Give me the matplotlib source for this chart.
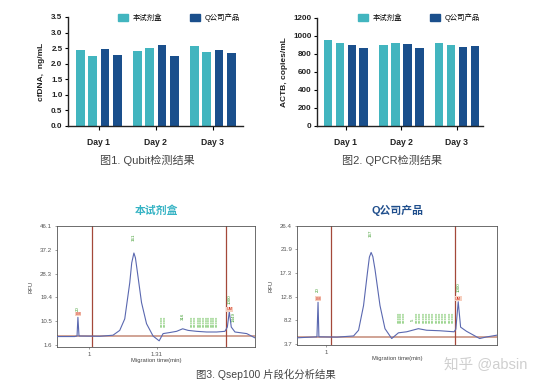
import matplotlib
matplotlib.use("Agg")
import matplotlib.pyplot as plt
import numpy as np
from matplotlib.patches import Patch

plt.rcParams['font.family'] = ['Liberation Sans', 'Noto Sans CJK SC', 'DejaVu Sans']

TEAL = '#42b5bf'
NAVY = '#1a4f8c'

# ---------------- data ----------------
days = ['Day 1', 'Day 2', 'Day 3']
series_names = ['本试剂盒', 'Q公司产品']
# four replicate bars per day: two from the kit, two from company Q
qubit_kit_a = [2.43, 2.41, 2.56]
qubit_kit_b = [2.25, 2.52, 2.37]
qubit_q_a = [2.46, 2.59, 2.43]
qubit_q_b = [2.27, 2.25, 2.33]

qpcr_kit_a = [950, 905, 925]
qpcr_kit_b = [925, 925, 905]
qpcr_q_a = [895, 910, 880]
qpcr_q_b = [870, 870, 890]

# electropherogram traces (migration time in min, RFU)
kit_time = [0.853, 0.934, 0.945, 0.949, 0.954, 1.049, 1.110, 1.141, 1.164, 1.187,
            1.196, 1.206, 1.213, 1.221, 1.241, 1.264, 1.294, 1.322, 1.340, 1.371,
            1.402, 1.430, 1.455, 1.494, 1.540, 1.586, 1.624, 1.635, 1.644, 1.653,
            1.670, 1.724, 1.762]
kit_rfu = [4.8, 4.8, 5.0, 12.0, 5.0, 4.9, 5.3, 7.1, 11.4, 24.9,
           32.3, 36.0, 34.2, 29.5, 17.5, 9.6, 5.0, 3.2, 5.9, 6.3,
           6.75, 7.7, 7.1, 6.75, 6.5, 6.5, 6.75, 8.35, 14.1, 8.35,
           6.5, 5.9, 4.3]
kit_yticks = [1.6, 10.5, 19.4, 28.3, 37.2, 46.1]
kit_xticks = [1.0, 1.31]
kit_markers = [1.014, 1.629]
kit_baseline = 5.0

q_time = [0.865, 0.957, 0.962, 0.966, 1.049, 1.126, 1.149, 1.172, 1.190, 1.199,
          1.207, 1.215, 1.225, 1.248, 1.271, 1.302, 1.333, 1.371, 1.425, 1.463,
          1.524, 1.590, 1.598, 1.609, 1.620, 1.647, 1.708, 1.739, 1.788]
q_rfu = [4.84, 5.03, 11.7, 5.03, 4.97, 5.2, 6.3, 11.05, 17.4, 20.4,
         21.3, 20.5, 18.0, 11.05, 6.6, 4.7, 5.8, 6.0, 6.6, 6.3,
         6.2, 6.0, 6.5, 11.8, 6.9, 6.1, 4.7, 5.0, 5.35]
q_yticks = [3.7, 8.2, 12.8, 17.3, 21.9, 26.4]
q_xticks = [1.0]
q_markers = [1.023, 1.594]
q_baseline = 5.0

# peak labels (time, rfu, text)
kit_peak_labels = [(0.949, 14.5, '20'), (1.206, 40.5, '161'), (1.430, 10.8, '316'),
                   (1.644, 16.8, '1000'), (1.662, 10.3, '1449')]
kit_cluster = [1.333, 1.345, 1.47, 1.483, 1.50, 1.512, 1.524, 1.536, 1.548, 1.56, 1.572, 1.584]
q_peak_labels = [(0.962, 13.6, '20'), (1.207, 24.2, '167'), (1.609, 13.6, '1000'),
                 (1.398, 8.0, '5')]
q_cluster = [1.33, 1.342, 1.354, 1.415, 1.43, 1.445, 1.46, 1.475, 1.49, 1.505, 1.52, 1.535,
             1.55, 1.565, 1.58]

# ---------------- figure ----------------
fig = plt.figure(figsize=(5.47, 3.88), dpi=100)


def bar_chart(rect, vals, ylim, yticks, yfmt, ylabel, xlim):
    ax = fig.add_axes(rect)
    x = np.arange(len(days))
    w = 0.155
    step = 0.215
    colors = [TEAL, TEAL, NAVY, NAVY]
    for i, (v, c) in enumerate(zip(vals, colors)):
        ax.bar(x + (i - 1.5) * step, v, width=w, color=c, zorder=2)
    ax.set_xlim(*xlim)
    ax.set_ylim(*ylim)
    ax.set_yticks(yticks)
    ax.set_yticklabels([yfmt % v for v in yticks], fontweight='bold')
    ax.set_xticks(x)
    ax.set_xticklabels(days, fontsize=6.2, fontweight='bold', color='#222')
    for s in ['top', 'right']:
        ax.spines[s].set_visible(False)
    for s in ['left', 'bottom']:
        ax.spines[s].set_linewidth(1.0)
        ax.spines[s].set_color('#222')
    ax.tick_params(axis='y', labelsize=5.8, length=2.5, width=0.8, pad=1.5, labelcolor='#222')
    ax.tick_params(axis='x', length=3, width=0.8, pad=6)
    ax.set_ylabel(ylabel, fontsize=6, fontweight='bold', color='#222', labelpad=4)
    return ax


ax1 = bar_chart([0.1243, 0.6753, 0.3199, 0.2809],
                [qubit_kit_a, qubit_kit_b, qubit_q_a, qubit_q_b],
                (0, 3.5), np.arange(0, 3.51, 0.5), '%.1f', 'cfDNA,  ng/mL', (-0.544, 2.53))
ax2 = bar_chart([0.5795, 0.6753, 0.3035, 0.2784],
                [qpcr_kit_a, qpcr_kit_b, qpcr_q_a, qpcr_q_b],
                (0, 1200), np.arange(0, 1201, 200), '%d', 'ACTB, copies/mL', (-0.52, 2.47))

for ax, cx in [(ax1, 0.327), (ax2, 0.766)]:
    handles = [Patch(color=TEAL), Patch(color=NAVY)]
    ax.legend(handles, series_names, loc='center', bbox_to_anchor=(cx, 0.955),
              bbox_transform=fig.transFigure, ncol=2, frameon=False, fontsize=5.3,
              handlelength=1.4, handleheight=1.1, columnspacing=3.8, handletextpad=0.6,
              borderaxespad=0)

fig.text(0.2687, 0.5876, '图1. Qubit检测结果', ha='center', va='center', fontsize=8, color='#444')
fig.text(0.7166, 0.5876, '图2. QPCR检测结果', ha='center', va='center', fontsize=8, color='#444')


def trace_chart(rect, t, r, xlim, ylim, yticks, xticks, xticklabels, markers, baseline,
                peak_labels, cluster, cluster_y):
    ax = fig.add_axes(rect)
    ax.plot(xlim, [baseline, baseline], color='#c48a78', lw=1.1, zorder=1)
    for m in markers:
        ax.axvline(m, color='#a4483a', lw=0.9, zorder=1)
    ax.plot(t, r, color='#5a68b0', lw=0.8, zorder=3)
    ax.set_xlim(*xlim)
    ax.set_ylim(*ylim)
    ax.set_yticks(yticks)
    ax.set_yticklabels(['%.1f' % v for v in yticks])
    ax.set_xticks(xticks)
    ax.set_xticklabels(xticklabels)
    ax.tick_params(labelsize=4.4, length=1.5, width=0.4, pad=2, colors='#555')
    for s in ax.spines.values():
        s.set_linewidth(0.6)
        s.set_color('#555')
    ax.set_ylabel('RFU', fontsize=4.2, color='#444', labelpad=5)
    ax.set_xlabel('Migration time(min)', fontsize=4.2, color='#444', labelpad=1)
    for (px, py, txt) in peak_labels:
        ax.text(px, py, txt, rotation=90, fontsize=3.2, color='#3a9a2a', ha='center', va='bottom')
    for cx in cluster:
        ax.text(cx, cluster_y, '=====', rotation=90, fontsize=2.8, color='#3aaa20',
                ha='center', va='center', fontweight='bold')
    return ax


def marker_tag(ax, x, y, txt):
    ax.text(x, y, txt, fontsize=2.8, color='#d03020', ha='center', va='center',
            bbox=dict(boxstyle='square,pad=0.1', fc='#f7d0c0', ec='none'), zorder=5)


a3 = trace_chart([0.1042, 0.1057, 0.362, 0.3119], kit_time, kit_rfu, (0.853, 1.762), (0.9, 46.1),
                 kit_yticks, kit_xticks, ['1', '1.31'], kit_markers, kit_baseline,
                 kit_peak_labels, kit_cluster, 10.5)
marker_tag(a3, 0.949, 13.2, 'LM')
marker_tag(a3, 1.644, 15.0, 'UM')

a4 = trace_chart([0.543, 0.1108, 0.3656, 0.3067], q_time, q_rfu, (0.865, 1.788), (3.45, 26.4),
                 q_yticks, q_xticks, ['1'], q_markers, q_baseline,
                 q_peak_labels, q_cluster, 8.8)
marker_tag(a4, 0.962, 12.4, 'LM')
marker_tag(a4, 1.609, 12.4, 'UM')

fig.text(0.287, 0.456, '本试剂盒', ha='center', va='center', fontsize=7.8, color='#35b3c4',
         fontweight='bold')
fig.text(0.726, 0.459, 'Q公司产品', ha='center', va='center', fontsize=7.8, color='#1f4e8c',
         fontweight='bold')
fig.text(0.486, 0.036, '图3. Qsep100 片段化分析结果', ha='center', va='center', fontsize=7.5,
         color='#444')
fig.text(0.888, 0.059, '知乎 @absin', ha='center', va='center', fontsize=10.5, color='#cfcfcf')

fig.savefig('out.png', dpi=100)
